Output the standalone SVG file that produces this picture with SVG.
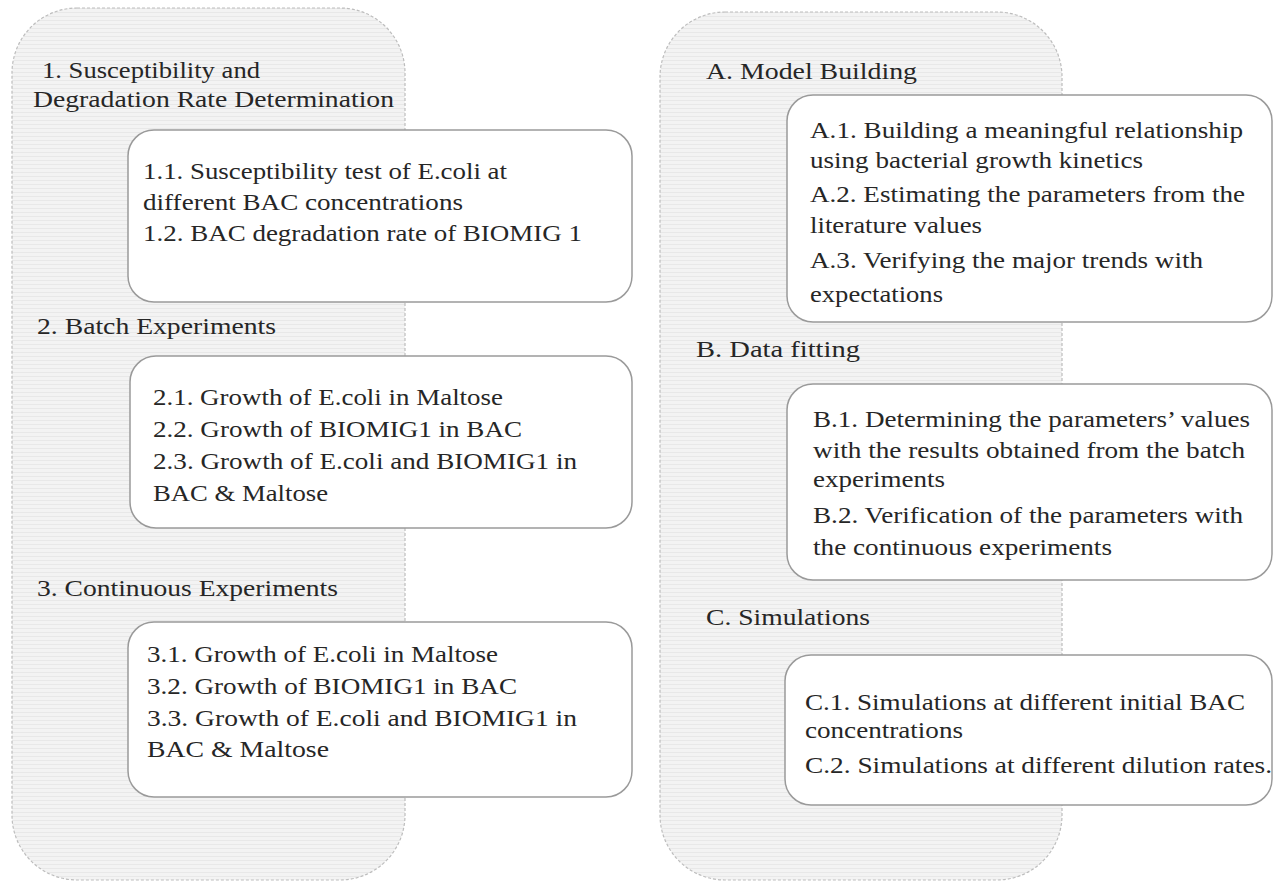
<svg xmlns="http://www.w3.org/2000/svg" width="1277" height="883" viewBox="0 0 1277 883">
<defs>
<pattern id="hatch" width="8" height="4" patternUnits="userSpaceOnUse">
<rect width="8" height="4" fill="#f3f3f3"/>
<line x1="0" y1="0.5" x2="8" y2="0.5" stroke="#e8e8e8" stroke-width="1"/>
</pattern>
</defs>
<style>
.panel{fill:url(#hatch);stroke:#bdbdbd;stroke-width:1.2;stroke-dasharray:3 2}
.box{fill:#fff;stroke:#9a9a9a;stroke-width:1.5}
text{font-family:"Liberation Serif","Times New Roman",serif;font-size:23px;fill:#262626}
</style>
<rect width="1277" height="883" fill="#fff"/>
<g id="panel-left">
<rect class="panel" x="12" y="8" width="393" height="872" rx="65" ry="65"/>
<text x="42" y="78" textLength="218" lengthAdjust="spacingAndGlyphs">1. Susceptibility and</text>
<text x="33" y="107" textLength="361" lengthAdjust="spacingAndGlyphs">Degradation Rate Determination</text>
<text x="37" y="334" textLength="239" lengthAdjust="spacingAndGlyphs">2. Batch Experiments</text>
<text x="37" y="596" textLength="301" lengthAdjust="spacingAndGlyphs">3. Continuous Experiments</text>
</g>
<g id="panel-right">
<rect class="panel" x="660" y="12" width="402" height="868" rx="65" ry="65"/>
<text x="706" y="79" textLength="211" lengthAdjust="spacingAndGlyphs">A. Model Building</text>
<text x="696" y="357" textLength="164" lengthAdjust="spacingAndGlyphs">B. Data fitting</text>
<text x="706" y="625" textLength="164" lengthAdjust="spacingAndGlyphs">C. Simulations</text>
</g>
<g id="box-1">
<rect class="box" x="128" y="130" width="504" height="172" rx="26" ry="26"/>
<text x="143" y="179" textLength="364" lengthAdjust="spacingAndGlyphs">1.1. Susceptibility test of E.coli at</text>
<text x="143" y="210" textLength="320" lengthAdjust="spacingAndGlyphs">different BAC concentrations</text>
<text x="143" y="241" textLength="439" lengthAdjust="spacingAndGlyphs">1.2. BAC degradation rate of BIOMIG 1</text>
</g>
<g id="box-2">
<rect class="box" x="130" y="356" width="502" height="172" rx="26" ry="26"/>
<text x="153" y="405" textLength="350" lengthAdjust="spacingAndGlyphs">2.1. Growth of E.coli in Maltose</text>
<text x="153" y="437" textLength="369" lengthAdjust="spacingAndGlyphs">2.2. Growth of BIOMIG1 in BAC</text>
<text x="153" y="469" textLength="424" lengthAdjust="spacingAndGlyphs">2.3. Growth of E.coli and BIOMIG1 in</text>
<text x="153" y="501" textLength="175" lengthAdjust="spacingAndGlyphs">BAC &amp; Maltose</text>
</g>
<g id="box-3">
<rect class="box" x="128" y="622" width="504" height="175" rx="26" ry="26"/>
<text x="147" y="662" textLength="351" lengthAdjust="spacingAndGlyphs">3.1. Growth of E.coli in Maltose</text>
<text x="147" y="694" textLength="370" lengthAdjust="spacingAndGlyphs">3.2. Growth of BIOMIG1 in BAC</text>
<text x="147" y="726" textLength="430" lengthAdjust="spacingAndGlyphs">3.3. Growth of E.coli and BIOMIG1 in</text>
<text x="147" y="757" textLength="182" lengthAdjust="spacingAndGlyphs">BAC &amp; Maltose</text>
</g>
<g id="box-A">
<rect class="box" x="787" y="95" width="485" height="227" rx="26" ry="26"/>
<text x="810" y="138" textLength="433" lengthAdjust="spacingAndGlyphs">A.1. Building a meaningful relationship</text>
<text x="810" y="168" textLength="333" lengthAdjust="spacingAndGlyphs">using bacterial growth kinetics</text>
<text x="810" y="202" textLength="435" lengthAdjust="spacingAndGlyphs">A.2. Estimating the parameters from the</text>
<text x="810" y="233" textLength="172" lengthAdjust="spacingAndGlyphs">literature values</text>
<text x="810" y="268" textLength="393" lengthAdjust="spacingAndGlyphs">A.3. Verifying the major trends with</text>
<text x="810" y="302" textLength="133" lengthAdjust="spacingAndGlyphs">expectations</text>
</g>
<g id="box-B">
<rect class="box" x="787" y="384" width="485" height="196" rx="26" ry="26"/>
<text x="813" y="427" textLength="437" lengthAdjust="spacingAndGlyphs">B.1. Determining the parameters’ values</text>
<text x="813" y="458" textLength="432" lengthAdjust="spacingAndGlyphs">with the results obtained from the batch</text>
<text x="813" y="487" textLength="132" lengthAdjust="spacingAndGlyphs">experiments</text>
<text x="813" y="523" textLength="430" lengthAdjust="spacingAndGlyphs">B.2. Verification of the parameters with</text>
<text x="813" y="555" textLength="299" lengthAdjust="spacingAndGlyphs">the continuous experiments</text>
</g>
<g id="box-C">
<rect class="box" x="785" y="655" width="487" height="150" rx="26" ry="26"/>
<text x="805" y="710" textLength="440" lengthAdjust="spacingAndGlyphs">C.1. Simulations at different initial BAC</text>
<text x="805" y="738" textLength="158" lengthAdjust="spacingAndGlyphs">concentrations</text>
<text x="805" y="773" textLength="467" lengthAdjust="spacingAndGlyphs">C.2. Simulations at different dilution rates.</text>
</g>
<g id="connectors"></g>
</svg>
